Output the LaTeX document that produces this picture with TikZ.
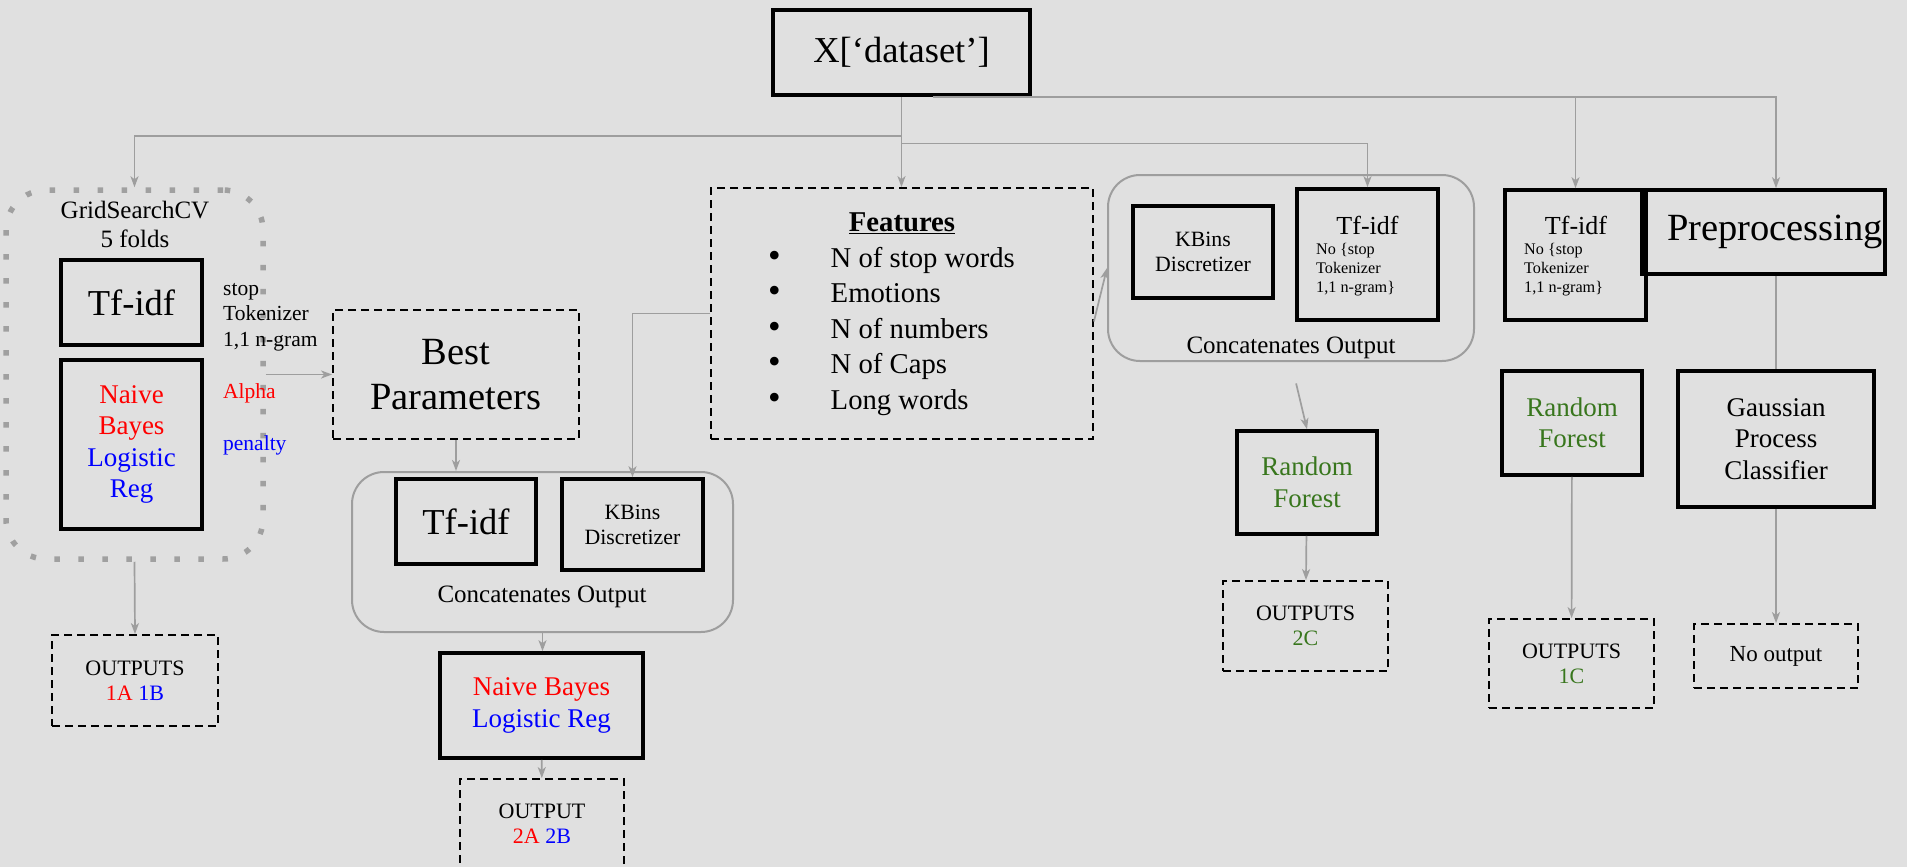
\documentclass[tikz,border=0pt]{standalone}
\usepackage{fontspec}
\setmainfont{Liberation Serif}
\usetikzlibrary{arrows.meta}
\definecolor{MlBg}{RGB}{224,224,224}
\definecolor{MlLine}{RGB}{158,158,158}
\definecolor{MlDot}{RGB}{160,160,160}
\definecolor{MlRed}{RGB}{255,0,0}
\definecolor{MlBlue}{RGB}{0,0,255}
\definecolor{MlGreen}{RGB}{56,118,29}
\newcommand{\mlbullet}{{\fontsize{36}{36}\selectfont •}}
\tikzset{
  ml/box/.style={
    draw=black,
    line width=3.6pt,
    align=center,
    inner sep=2pt
  },
  ml/dashbox/.style={
    draw=black,
    line width=1.8pt,
    dash pattern=on 8pt off 5pt,
    align=center,
    inner sep=2pt
  },
  ml/group/.style={draw=MlLine, line width=2pt, rounded corners=32pt},
  ml/grid/.style={draw=MlDot, line width=5.5pt, dash pattern=on 5.5pt off 18.5pt, rounded corners=40pt},
  ml/arrow/.style={-{Stealth[length=11pt,width=8pt,inset=3pt]}, line width=1.7pt, draw=MlLine},
  ml/line/.style={line width=1.7pt, draw=MlLine},
  ml/big/.style={font=\fontsize{36.5}{44}\selectfont},
  ml/huge/.style={font=\fontsize{38.5}{45}\selectfont},
  ml/title/.style={font=\fontsize{26}{30}\selectfont, inner sep=0pt},
  ml/model/.style={font=\fontsize{27}{31.5}\selectfont},
  ml/label/.style={font=\fontsize{25}{29}\selectfont, align=center, inner sep=0pt},
  ml/kbins/.style={font=\fontsize{21.8}{25}\selectfont},
  ml/param/.style={font=\fontsize{21.5}{25.5}\selectfont, align=left, inner sep=0pt},
  ml/small/.style={font=\fontsize{16.2}{19}\selectfont, align=left, inner sep=0pt},
  ml/out/.style={font=\fontsize{22}{25}\selectfont}
}

\begin{document}
\begin{tikzpicture}[x=1pt,y=-1pt]
  \useasboundingbox (0,0) rectangle (1907,867);
  \fill[MlBg] (0,0) rectangle (1907,867);
  \clip (0,0) rectangle (1907,867);

  \node[ml/box,ml/big,minimum width=257,minimum height=85] (data) at (901.5,52.5) {X[‘dataset’]};

  \node[ml/grid,minimum width=257,minimum height=369] (grid) at (134.5,374.5) {};
  \node[ml/label] (gridlbl) at (135,224.5) {GridSearchCV\\5 folds};
  \node[ml/box,ml/big,minimum width=141,minimum height=85] (tfa) at (131.5,302.5) {Tf-idf};
  \node[ml/box,ml/model,minimum width=141,minimum height=169] (nba) at (131.5,444.5) {\textcolor{MlRed}{Naive}\\\textcolor{MlRed}{Bayes}\\\textcolor{MlBlue}{Logistic}\\\textcolor{MlBlue}{Reg}};
  \node[ml/param,anchor=west] (tfapar) at (223,317) {stop\\Tokenizer\\1,1 n-gram};
  \node[ml/param,anchor=west,text=MlRed] (nbapar) at (223,393) {Alpha};
  \node[ml/param,anchor=west,text=MlBlue] (lrapar) at (223,445) {penalty};
  \node[ml/dashbox,ml/out,minimum width=166,minimum height=91] (outa) at (135,680.5) {OUTPUTS\\\textcolor{MlRed}{1A} \textcolor{MlBlue}{1B}};

  \node[ml/dashbox,ml/huge,minimum width=246,minimum height=129] (best) at (456,374.5) {Best\\Parameters};

  \node[ml/group,minimum width=381,minimum height=160] (cca) at (542.5,552) {};
  \node[ml/box,ml/big,minimum width=140,minimum height=85] (tfb) at (466,521.5) {Tf-idf};
  \node[ml/box,ml/kbins,minimum width=141,minimum height=91] (kba) at (632.5,524.5) {KBins\\Discretizer};
  \node[ml/label] (ccalbl) at (542,597) {Concatenates Output};
  \node[ml/box,ml/model,minimum width=203,minimum height=105] (nbb) at (541.5,705.5) {\textcolor{MlRed}{Naive Bayes}\\\textcolor{MlBlue}{Logistic Reg}};
  \node[ml/dashbox,ml/out,minimum width=164,minimum height=90] (outb) at (542,824) {OUTPUT\\\textcolor{MlRed}{2A} \textcolor{MlBlue}{2B}};

  \node[ml/dashbox,font=\fontsize{28.7}{35.5}\selectfont,minimum width=382,minimum height=251] (feat) at (902,313.5) {%
    \begin{tabular}{@{}l@{\hspace{50pt}}l@{\hspace{21pt}}}
      \multicolumn{2}{@{}c@{}}{\underline{\textbf{Features}}}\\
      \mlbullet & N of stop words\\
      \mlbullet & Emotions\\
      \mlbullet & N of numbers\\
      \mlbullet & N of Caps\\
      \mlbullet & Long words
    \end{tabular}};

  \node[ml/group,minimum width=366,minimum height=186] (ccb) at (1291,268) {};
  \node[ml/box,ml/kbins,minimum width=140,minimum height=92] (kbb) at (1203,252) {KBins\\Discretizer};
  \node[ml/box,minimum width=141,minimum height=131] (tfc) at (1367.5,254.5) {};
  \node[ml/title] (tfclbl) at (1367.5,225) {Tf-idf};
  \node[ml/small,anchor=west] (tfcpar) at (1316,270) {No \{stop\\Tokenizer\\1,1 n-gram\}};
  \node[ml/label] (ccblbl) at (1291,348) {Concatenates Output};
  \node[ml/box,ml/model,text=MlGreen,minimum width=140,minimum height=103] (rfb) at (1307,482.5) {Random\\Forest};
  \node[ml/dashbox,ml/out,minimum width=165,minimum height=90] (outc) at (1305.5,626) {OUTPUTS\\\textcolor{MlGreen}{2C}};

  \node[ml/box,minimum width=141,minimum height=130] (tfd) at (1575.5,255) {};
  \node[ml/title] (tfdlbl) at (1576,225) {Tf-idf};
  \node[ml/small,anchor=west] (tfdpar) at (1524,270) {No \{stop\\Tokenizer\\1,1 n-gram\}};
  \node[ml/box,ml/huge,text width=239pt,align=right,minimum height=84] (pre) at (1763.5,232) {Preprocessing};
  \node[ml/box,ml/model,text=MlGreen,minimum width=140,minimum height=104] (rfa) at (1572,423) {Random\\Forest};
  \node[ml/box,ml/model,minimum width=196,minimum height=136] (gpc) at (1776,439) {Gaussian\\Process\\Classifier};
  \node[ml/dashbox,ml/out,minimum width=165,minimum height=89] (outd) at (1571.5,663.5) {OUTPUTS\\\textcolor{MlGreen}{1C}};
  \node[ml/dashbox,font=\fontsize{23}{27}\selectfont,minimum width=164,minimum height=64] (nout) at (1776,656) {No output};

  \coordinate (splitl) at (901.5,136);
  \coordinate (splitr) at (901.5,143.5);
  \draw[ml/arrow] (data.south) -- (data.south |- feat.north);
  \draw[ml/arrow] (splitl) -| (grid.north);
  \draw[ml/arrow] (splitr) -| (tfc.north);
  \draw[ml/arrow] ([xshift=31pt]data.south) -| (gpc.north |- pre.north);
  \draw[ml/arrow] (data.south -| tfd.north) -- (tfd.north);
  \draw[ml/line] (gpc.north |- pre.south) -- (gpc.north);
  \draw[ml/arrow] (grid) -- (best);
  \draw[ml/arrow] (grid.south) -- (outa.north);
  \draw[ml/arrow] (best.south) -- (best.south |- cca.north);
  \draw[ml/arrow] (feat.west) -| (kba.north);
  \draw[ml/arrow] ([yshift=-8pt]feat.east) -- (ccb.west);
  \draw[ml/arrow] (cca.south) -- (cca.south |- nbb.north);
  \draw[ml/arrow] (nbb) -- (outb);
  \draw[ml/arrow,shorten <=22pt] (ccb.south) -- (rfb.north);
  \draw[ml/arrow] (rfb) -- (outc);
  \draw[ml/arrow] (rfa) -- (outd);
  \draw[ml/arrow] (gpc) -- (nout);
\end{tikzpicture}
\end{document}
